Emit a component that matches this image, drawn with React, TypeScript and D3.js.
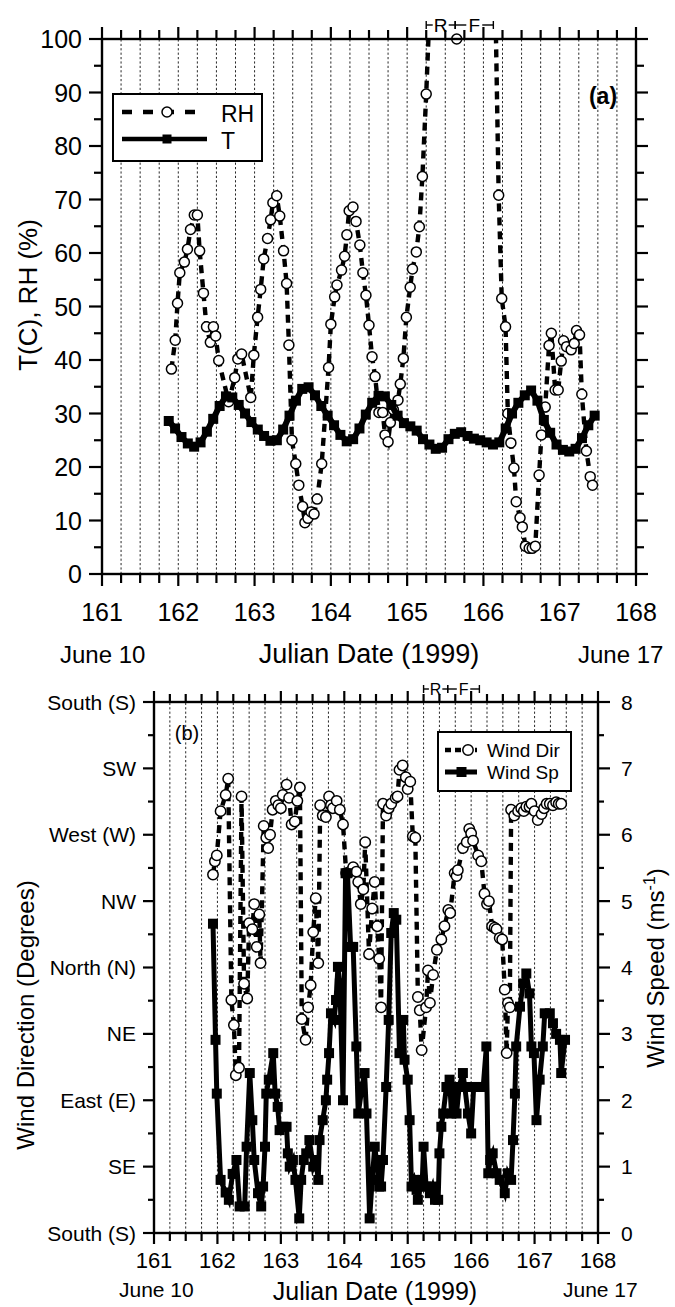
import React from 'react';
import * as d3 from 'd3';

const FONT = '"Liberation Sans", Arial, Helvetica, sans-serif';

// ---------- shared ----------
const dayTicks = [161, 162, 163, 164, 165, 166, 167, 168];
const rfSpans = [
  { label: 'R', from: 165.25, to: 165.63 },
  { label: 'F', from: 165.63, to: 166.13 },
];

// ---------- panel (a) ----------
const rhTicks = [0, 10, 20, 30, 40, 50, 60, 70, 80, 90, 100];

// Temperature (C): [julian day, value]
const temperature: [number, number][] = [
  [161.875, 28.6], [161.958, 27.2], [162.042, 25.6], [162.125, 24.4], [162.208, 23.8],
  [162.292, 24.6], [162.375, 26.6], [162.458, 29.0], [162.542, 31.4], [162.625, 33.2],
  [162.708, 33.0], [162.792, 31.6], [162.875, 30.0], [162.958, 28.4], [163.042, 27.0],
  [163.125, 25.8], [163.208, 24.9], [163.292, 25.0], [163.375, 27.0], [163.458, 29.6],
  [163.542, 32.4], [163.625, 34.6], [163.708, 34.9], [163.792, 33.4], [163.875, 31.4],
  [163.958, 29.6], [164.042, 27.8], [164.125, 26.0], [164.208, 24.8], [164.292, 25.2],
  [164.375, 27.2], [164.458, 29.8], [164.542, 32.0], [164.625, 33.3], [164.708, 33.2],
  [164.792, 31.6], [164.875, 29.6], [164.958, 28.2], [165.042, 27.6], [165.125, 26.8],
  [165.208, 25.2], [165.292, 24.2], [165.375, 23.4], [165.458, 23.6], [165.542, 25.2],
  [165.625, 26.2], [165.708, 26.5], [165.792, 25.8], [165.875, 25.3], [165.958, 25.0],
  [166.042, 24.6], [166.125, 24.2], [166.208, 24.6], [166.292, 27.2], [166.375, 30.0],
  [166.458, 32.0], [166.542, 33.4], [166.625, 34.3], [166.708, 32.4], [166.792, 28.8],
  [166.875, 26.4], [166.958, 24.2], [167.042, 23.2], [167.125, 22.9], [167.208, 23.4],
  [167.292, 25.4], [167.375, 27.8], [167.458, 29.6],
];

// Relative humidity (%): [julian day, value]
const humidity: [number, number][] = [
  [161.91, 38.3], [161.96, 43.7], [161.99, 50.6], [162.02, 56.3], [162.08, 58.3],
  [162.12, 60.7], [162.16, 64.4], [162.21, 67.1], [162.25, 67.1], [162.28, 60.4],
  [162.33, 52.5], [162.37, 46.2], [162.42, 43.3], [162.46, 46.2], [162.49, 44.5],
  [162.53, 39.9], [162.66, 32.2], [162.74, 36.7], [162.78, 40.2], [162.83, 41.1],
  [162.95, 33.0], [162.99, 40.9], [163.04, 48.0], [163.08, 53.2], [163.12, 58.9],
  [163.17, 62.7], [163.21, 66.2], [163.24, 69.4], [163.29, 70.7], [163.33, 66.9],
  [163.38, 60.4], [163.42, 54.3], [163.45, 42.8], [163.49, 25.0], [163.54, 20.6],
  [163.58, 16.6], [163.63, 12.6], [163.66, 9.6], [163.70, 10.4], [163.74, 11.6],
  [163.78, 11.2], [163.82, 14.0], [163.88, 20.6], [163.97, 38.6], [164.00, 46.7],
  [164.05, 51.8], [164.08, 54.0], [164.14, 56.8], [164.18, 59.4], [164.21, 63.4],
  [164.24, 67.9], [164.29, 68.6], [164.33, 65.9], [164.38, 61.5], [164.42, 56.3],
  [164.46, 52.1], [164.50, 46.5], [164.54, 40.6], [164.58, 36.9], [164.63, 30.2],
  [164.68, 30.2], [164.71, 26.0], [164.75, 24.7], [164.78, 28.3], [164.82, 30.7],
  [164.88, 32.5], [164.91, 35.5], [164.95, 40.3], [164.99, 48.0], [165.04, 53.6],
  [165.07, 57.0], [165.12, 60.2], [165.16, 64.9], [165.20, 74.3], [165.25, 89.7],
  [165.29, 104], [165.65, 100], [166.16, 104], [166.20, 70.8], [166.24, 51.5],
  [166.29, 46.2], [166.32, 30.0], [166.36, 24.5], [166.40, 19.8], [166.43, 13.5],
  [166.48, 10.5], [166.51, 8.8], [166.55, 5.2], [166.60, 4.8], [166.64, 4.8],
  [166.68, 5.2], [166.73, 18.5], [166.76, 26.0], [166.81, 31.2], [166.86, 42.7],
  [166.89, 45.0], [166.94, 34.4], [166.98, 34.4], [167.02, 39.8], [167.05, 43.6],
  [167.09, 42.5], [167.15, 41.9], [167.19, 43.1], [167.22, 45.5], [167.26, 44.7],
  [167.29, 33.6], [167.35, 23.0], [167.40, 18.2], [167.43, 16.6],
];

// ---------- panel (b) ----------
const dirLabels = ['South (S)', 'SE', 'East (E)', 'NE', 'North (N)', 'NW', 'West (W)', 'SW', 'South (S)'];
const speedTicks = [0, 1, 2, 3, 4, 5, 6, 7, 8];

// Wind speed (m/s): [julian day, value]
const windSpeed: [number, number][] = [
  [161.93, 4.66], [161.97, 2.91], [161.99, 2.10], [162.05, 0.80], [162.13, 0.61],
  [162.18, 0.50], [162.24, 0.89], [162.30, 1.10], [162.35, 0.40], [162.43, 0.40],
  [162.46, 1.30], [162.51, 2.41], [162.55, 1.70], [162.58, 1.10], [162.64, 0.60],
  [162.69, 0.40], [162.72, 0.70], [162.75, 1.30], [162.77, 2.10], [162.81, 2.31],
  [162.88, 2.71], [162.91, 2.10], [162.95, 1.90], [162.98, 1.55], [163.04, 1.60],
  [163.09, 1.60], [163.11, 1.20], [163.14, 1.00], [163.19, 1.10], [163.23, 0.80],
  [163.29, 0.22], [163.32, 0.80], [163.36, 1.10], [163.40, 1.20], [163.45, 1.40],
  [163.51, 1.00], [163.55, 1.10], [163.59, 0.80], [163.61, 1.40], [163.66, 1.70],
  [163.71, 2.00], [163.73, 2.31], [163.76, 2.71], [163.79, 3.31], [163.84, 3.21],
  [163.87, 3.51], [163.90, 4.01], [163.93, 3.76], [163.98, 2.00], [164.02, 5.42],
  [164.05, 5.42], [164.10, 4.31], [164.14, 4.31], [164.19, 2.81], [164.22, 1.80],
  [164.28, 2.20], [164.32, 2.41], [164.35, 1.80], [164.40, 0.22], [164.44, 0.80],
  [164.48, 1.30], [164.52, 1.00], [164.55, 0.70], [164.58, 0.70], [164.61, 1.10],
  [164.66, 2.20], [164.70, 3.21], [164.74, 4.52], [164.78, 4.82], [164.82, 4.72],
  [164.87, 2.71], [164.93, 3.21], [164.95, 2.61], [165.00, 2.31], [165.03, 1.70],
  [165.06, 0.70], [165.10, 0.80], [165.14, 0.65], [165.16, 0.50], [165.20, 0.70],
  [165.23, 0.80], [165.25, 1.30], [165.29, 0.70], [165.35, 0.60], [165.39, 0.70],
  [165.43, 0.50], [165.48, 0.50], [165.50, 1.20], [165.53, 1.60], [165.56, 1.80],
  [165.61, 2.20], [165.66, 2.31], [165.69, 1.80], [165.74, 2.20], [165.77, 1.80],
  [165.81, 2.20], [165.87, 2.41], [165.90, 2.20], [165.95, 1.80], [166.00, 1.50],
  [166.04, 2.20], [166.11, 2.20], [166.19, 2.20], [166.24, 2.81], [166.27, 0.90],
  [166.30, 1.10], [166.34, 1.20], [166.40, 0.90], [166.45, 0.80], [166.53, 0.60],
  [166.58, 0.90], [166.63, 0.80], [166.66, 1.40], [166.69, 2.10], [166.71, 2.81],
  [166.77, 3.41], [166.82, 3.76], [166.87, 3.91], [166.92, 3.61], [166.95, 2.81],
  [166.99, 2.71], [167.03, 1.70], [167.08, 2.31], [167.13, 2.81], [167.16, 3.31],
  [167.24, 3.31], [167.29, 3.16], [167.34, 3.00], [167.40, 2.91], [167.42, 2.41],
  [167.48, 2.91],
];

// Wind direction (compass degrees, 0 = N, 90 = E): [julian day, value]
const windDir: [number, number][] = [
  [161.93, 297], [161.96, 288], [161.99, 284], [162.05, 254], [162.13, 243],
  [162.17, 232], [162.22, 22], [162.26, 39], [162.29, 73], [162.34, 68],
  [162.38, 244], [162.42, 11], [162.47, 21], [162.50, 330], [162.55, 334],
  [162.58, 317], [162.62, 346], [162.66, 324], [162.68, 357], [162.73, 264],
  [162.77, 272], [162.80, 279], [162.83, 270], [162.87, 253], [162.92, 247],
  [162.96, 250], [163.00, 252], [163.03, 243], [163.09, 236], [163.13, 245],
  [163.17, 263], [163.22, 261], [163.26, 247], [163.30, 238], [163.33, 35],
  [163.39, 49], [163.43, 27], [163.47, 12], [163.51, 336], [163.55, 313],
  [163.59, 357], [163.62, 250], [163.66, 257], [163.71, 258], [163.76, 244],
  [163.79, 250], [163.82, 252], [163.88, 247], [163.93, 253], [163.98, 263],
  [164.03, 296], [164.09, 295], [164.14, 292], [164.19, 295], [164.22, 302],
  [164.26, 317], [164.30, 307], [164.33, 275], [164.39, 351], [164.44, 320],
  [164.48, 302], [164.52, 332], [164.55, 354], [164.58, 27], [164.61, 249],
  [164.66, 257], [164.70, 252], [164.74, 249], [164.81, 245], [164.84, 244],
  [164.87, 226], [164.92, 223], [164.97, 231], [165.00, 239], [165.04, 234],
  [165.08, 271], [165.12, 272], [165.16, 20], [165.19, 29], [165.22, 56],
  [165.29, 27], [165.32, 2], [165.35, 24], [165.40, 5], [165.46, 348],
  [165.53, 341], [165.58, 332], [165.64, 321], [165.67, 323], [165.74, 296],
  [165.77, 298], [165.79, 294], [165.87, 279], [165.93, 275], [165.97, 266],
  [166.00, 269], [166.03, 274], [166.11, 284], [166.16, 288], [166.21, 310],
  [166.25, 317], [166.28, 315], [166.33, 332], [166.37, 333], [166.40, 334],
  [166.45, 340], [166.49, 341], [166.53, 15], [166.56, 58], [166.58, 24],
  [166.61, 27], [166.63, 253], [166.68, 257], [166.74, 254], [166.79, 252],
  [166.83, 254], [166.87, 251], [166.92, 251], [166.95, 249], [167.00, 254],
  [167.05, 260], [167.11, 256], [167.15, 252], [167.19, 249], [167.24, 249],
  [167.29, 250], [167.34, 248], [167.38, 249], [167.42, 249],
];

// compass degrees -> axis position (0 = S at bottom, 180 = N, 360 = S at top)
const dirToAxis = (deg: number) => (540 - deg) % 360;

type Sc = d3.ScaleLinear<number, number>;

function Frame({ x, y, w }: { x: Sc; y: Sc; w: number }) {
  const [x0, x1] = x.range();
  const [y0, y1] = y.range();
  return (
    <rect x={x0} y={y1} width={x1 - x0} height={y0 - y1} fill="none" stroke="#000" strokeWidth={w} />
  );
}

function Grid({ x, y }: { x: Sc; y: Sc }) {
  const days = d3.range(1, 28).map((i) => 161 + i * 0.25);
  const [y0, y1] = y.range();
  return (
    <g>
      {days.map((d) => (
        <line key={d} x1={x(d)} x2={x(d)} y1={y0} y2={y1} stroke="#111" strokeWidth={0.9} strokeDasharray="2.2 2.2" />
      ))}
    </g>
  );
}

function XTicks({ x, y, major, minor }: { x: Sc; y: Sc; major: number; minor: number }) {
  const qs = d3.range(0, 29).map((i) => 161 + i * 0.25);
  const [yb, yt] = y.range();
  return (
    <g stroke="#000" strokeWidth={2.2}>
      {qs.map((d, i) => {
        const len = i % 4 === 0 ? major : minor;
        return (
          <g key={i}>
            <line x1={x(d)} x2={x(d)} y1={yb} y2={yb + len} />
            <line x1={x(d)} x2={x(d)} y1={yt} y2={yt - len} />
          </g>
        );
      })}
    </g>
  );
}

function RFMarks({ x, yy, fs }: { x: Sc; yy: number; fs: number }) {
  return (
    <g>
      {rfSpans.map((s) => {
        const a = x(s.from);
        const b = x(s.to);
        const m = (a + b) / 2;
        const half = fs * 0.42;
        return (
          <g key={s.label} stroke="#000" strokeWidth={1.4}>
            <line x1={a} x2={a} y1={yy - 4} y2={yy + 4} />
            <line x1={b} x2={b} y1={yy - 4} y2={yy + 4} />
            <line x1={a} x2={m - half} y1={yy} y2={yy} />
            <line x1={m + half} x2={b} y1={yy} y2={yy} />
            <text x={m} y={yy + fs * 0.36} textAnchor="middle" fontSize={fs} fontFamily={FONT} stroke="none" fill="#000">
              {s.label}
            </text>
          </g>
        );
      })}
    </g>
  );
}

function PanelA() {
  const x = d3.scaleLinear().domain([161, 168]).range([102, 636]);
  const y = d3.scaleLinear().domain([0, 100]).range([574, 39]);
  const line = d3.line<[number, number]>().x((d) => x(d[0])).y((d) => y(d[1]));
  const minorY = d3.range(5, 100, 10);
  return (
    <g>
      <defs>
        <clipPath id="clipA">
          <rect x={102} y={39} width={534} height={535} />
        </clipPath>
      </defs>
      <Grid x={x} y={y} />
      {/* RH */}
      <path d={line(humidity) || ''} fill="none" stroke="#000" strokeWidth={4.4} strokeDasharray="8 6" clipPath="url(#clipA)" />
      {humidity.filter((d) => d[1] <= 100).map((d, i) => (
        <circle key={i} cx={x(d[0])} cy={y(d[1])} r={5} fill="#fff" stroke="#000" strokeWidth={1.5} />
      ))}
      {/* T */}
      <path d={line(temperature) || ''} fill="none" stroke="#000" strokeWidth={6} />
      {temperature.map((d, i) => (
        <rect key={i} x={x(d[0]) - 5} y={y(d[1]) - 5} width={10} height={10} fill="#000" />
      ))}
      <Frame x={x} y={y} w={2.4} />
      <XTicks x={x} y={y} major={12} minor={9} />
      <g stroke="#000" strokeWidth={2.2}>
        {rhTicks.map((v) => (
          <g key={v}>
            <line x1={102} x2={89} y1={y(v)} y2={y(v)} />
            <line x1={636} x2={648} y1={y(v)} y2={y(v)} />
          </g>
        ))}
        {minorY.map((v) => (
          <g key={v}>
            <line x1={102} x2={94} y1={y(v)} y2={y(v)} />
            <line x1={636} x2={644} y1={y(v)} y2={y(v)} />
          </g>
        ))}
      </g>
      <g fontFamily={FONT} fontSize={25} fill="#000">
        {rhTicks.map((v) => (
          <text key={v} x={82} y={y(v) + 9} textAnchor="end">{v}</text>
        ))}
        {dayTicks.map((d) => (
          <text key={d} x={x(d)} y={621} textAnchor="middle">{d}</text>
        ))}
      </g>
      <text x={60} y={663} fontFamily={FONT} fontSize={24}>June 10</text>
      <text x={369} y={663} fontFamily={FONT} fontSize={27} textAnchor="middle">Julian Date (1999)</text>
      <text x={578} y={663} fontFamily={FONT} fontSize={24}>June 17</text>
      <text transform="translate(37,295) rotate(-90)" fontFamily={FONT} fontSize={26} textAnchor="middle">T(C), RH (%)</text>
      <text x={603} y={104} fontFamily={FONT} fontSize={23} fontWeight="bold" textAnchor="middle">(a)</text>
      <RFMarks x={x} yy={25} fs={19} />
      {/* legend */}
      <g>
        <rect x={113} y={94} width={149} height={67} fill="#fff" stroke="#000" strokeWidth={2} />
        <line x1={122} x2={196} y1={112} y2={112} stroke="#000" strokeWidth={4.4} strokeDasharray="10 11" />
        <circle cx={167} cy={112} r={5} fill="#fff" stroke="#000" strokeWidth={1.5} />
        <text x={221} y={122} fontFamily={FONT} fontSize={23}>RH</text>
        <line x1={122} x2={207} y1={139} y2={139} stroke="#000" strokeWidth={4.4} />
        <rect x={162.5} y={134.5} width={9} height={9} fill="#000" />
        <text x={221} y={149} fontFamily={FONT} fontSize={23}>T</text>
      </g>
    </g>
  );
}

function PanelB() {
  const x = d3.scaleLinear().domain([161, 168]).range([154, 598]);
  const yS = d3.scaleLinear().domain([0, 8]).range([1233, 702]);
  const yD = d3.scaleLinear().domain([0, 360]).range([1233, 702]);
  const lineS = d3.line<[number, number]>().x((d) => x(d[0])).y((d) => yS(d[1]));
  const lineD = d3.line<[number, number]>().x((d) => x(d[0])).y((d) => yD(dirToAxis(d[1])));
  const minor = d3.range(0.5, 8, 1);
  return (
    <g>
      <Grid x={x} y={yS} />
      <path d={lineD(windDir) || ''} fill="none" stroke="#000" strokeWidth={4.4} strokeDasharray="8 6" />
      {windDir.map((d, i) => (
        <circle key={i} cx={x(d[0])} cy={yD(dirToAxis(d[1]))} r={5.2} fill="#fff" stroke="#000" strokeWidth={1.5} />
      ))}
      <path d={lineS(windSpeed) || ''} fill="none" stroke="#000" strokeWidth={5} />
      {windSpeed.map((d, i) => (
        <rect key={i} x={x(d[0]) - 5} y={yS(d[1]) - 5} width={10} height={10} fill="#000" />
      ))}
      <Frame x={x} y={yS} w={2.4} />
      <XTicks x={x} y={yS} major={11} minor={8} />
      <g stroke="#000" strokeWidth={2.2}>
        {speedTicks.map((v) => (
          <g key={v}>
            <line x1={154} x2={143} y1={yS(v)} y2={yS(v)} />
            <line x1={598} x2={610} y1={yS(v)} y2={yS(v)} />
          </g>
        ))}
        {minor.map((v) => (
          <g key={v}>
            <line x1={154} x2={148} y1={yS(v)} y2={yS(v)} />
            <line x1={598} x2={604} y1={yS(v)} y2={yS(v)} />
          </g>
        ))}
      </g>
      <g fontFamily={FONT} fontSize={21} fill="#000">
        {dirLabels.map((l, i) => (
          <text key={i} x={136} y={yS(i) + 7.5} textAnchor="end">{l}</text>
        ))}
        {speedTicks.map((v) => (
          <text key={v} x={621} y={yS(v) + 7.5}>{v}</text>
        ))}
        {dayTicks.map((d) => (
          <text key={d} x={x(d)} y={1268} textAnchor="middle" fontSize={22}>{d}</text>
        ))}
      </g>
      <text x={119} y={1297} fontFamily={FONT} fontSize={21}>June 10</text>
      <text x={375} y={1300} fontFamily={FONT} fontSize={25} textAnchor="middle">Julian Date (1999)</text>
      <text x={563} y={1297} fontFamily={FONT} fontSize={21}>June 17</text>
      <text transform="translate(34,1015) rotate(-90)" fontFamily={FONT} fontSize={24} textAnchor="middle">Wind Direction (Degrees)</text>
      <text transform="translate(664,968) rotate(-90)" fontFamily={FONT} fontSize={24} textAnchor="middle">
        Wind Speed (ms<tspan dy={-9} fontSize={16}>-1</tspan><tspan dy={9}>)</tspan>
      </text>
      <text x={187} y={740} fontFamily={FONT} fontSize={20} textAnchor="middle">(b)</text>
      <RFMarks x={x} yy={689} fs={16} />
      <g>
        <rect x={438} y={732} width={133} height={59} fill="#fff" stroke="#000" strokeWidth={2} />
        <line x1={445} x2={477} y1={750} y2={750} stroke="#000" strokeWidth={4.4} strokeDasharray="6 4" />
        <circle cx={468} cy={750} r={5.2} fill="#fff" stroke="#000" strokeWidth={1.5} />
        <text x={487} y={757} fontFamily={FONT} fontSize={19}>Wind Dir</text>
        <line x1={445} x2={477} y1={772} y2={772} stroke="#000" strokeWidth={5} />
        <rect x={456.5} y={767} width={10} height={10} fill="#000" />
        <text x={487} y={779} fontFamily={FONT} fontSize={19}>Wind Sp</text>
      </g>
    </g>
  );
}

export default function App() {
  return (
    <svg
      width={675}
      height={1307}
      viewBox="0 0 675 1307"
      style={{ position: 'absolute', left: 0, top: 0, display: 'block', background: '#fff' }}
    >
      <rect x={0} y={0} width={675} height={1307} fill="#fff" />
      <PanelA />
      <PanelB />
    </svg>
  );
}
